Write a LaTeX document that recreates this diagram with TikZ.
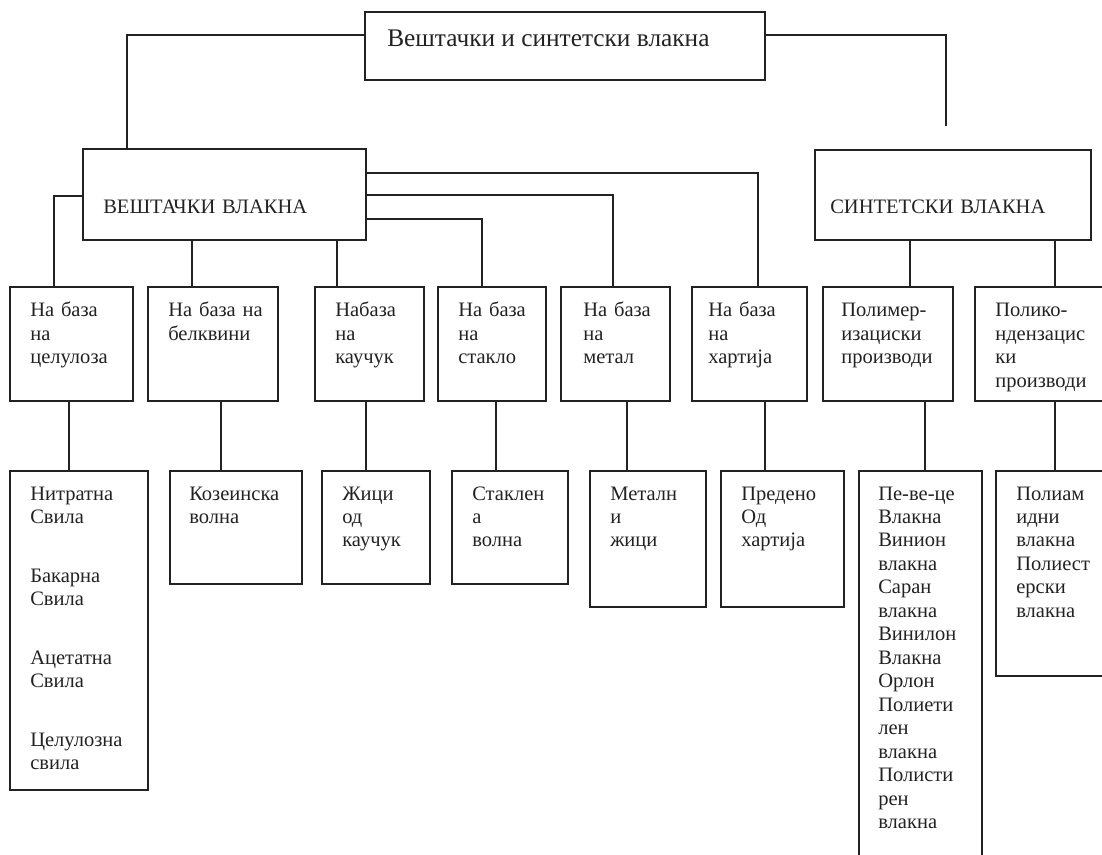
\documentclass[tikz,border=0pt]{standalone}
\usepackage{fontspec}
\setmainfont{Liberation Serif}
\usetikzlibrary{fit}
\definecolor{ink}{HTML}{222222}
\begin{document}
\begin{tikzpicture}[x=0.75pt,y=-0.75pt,
  box/.style={draw=ink,line width=1.4pt,inner sep=0pt},
  conn/.style={draw=ink,line width=1.4pt},
  txt/.style={anchor=base west,inner sep=0pt,text width=6cm,align=left,text=ink,
    font=\fontsize{15.4}{17.6}\selectfont},
  ttl/.style={anchor=base west,inner sep=0pt,text=ink,font=\fontsize{19}{23}\selectfont}]
\useasboundingbox (0,0) rectangle (1102,855);
\clip (0,0) rectangle (1102,855);
% top level
\node[box,fit={(365,12) (765,80)}] (T) {};
\node[ttl] (Tt) at (387,47) {Вештачки и синтетски влакна};
\node[box,fit={(83,149) (366,240)}] (V) {};
\node[txt] (Vt) at (103,214) {ВЕШТАЧКИ ВЛАКНА};
\node[box,fit={(815,150) (1091,240)}] (S) {};
\node[txt] (St) at (830,214) {СИНТЕТСКИ ВЛАКНА};
\coordinate (Send) at (946,126);
% level 2
\node[box,fit={(10,287) (133,401)}] (B1) {};
\node[box,fit={(148,287) (278,401)}] (B2) {};
\node[box,fit={(315,287) (424,401)}] (B3) {};
\node[box,fit={(438,287) (546,401)}] (B4) {};
\node[box,fit={(561,287) (670,401)}] (B5) {};
\node[box,fit={(692,287) (807,401)}] (B6) {};
\node[box,fit={(823,287) (953,401)}] (B7) {};
\node[box,fit={(975,287) (1110,401)}] (B8) {};
\node[txt] (B1t) at (30,317) {На база\\на\\целулоза};
\node[txt] (B2t) at (168,317) {На база на\\белквини};
\node[txt] (B3t) at (335,317) {Набаза\\на\\каучук};
\node[txt] (B4t) at (458,317) {На база\\на\\стакло};
\node[txt] (B5t) at (583,317) {На база\\на\\метал};
\node[txt] (B6t) at (708,317) {На база\\на\\хартија};
\node[txt] (B7t) at (841,317) {Полимер-\\изациски\\производи};
\node[txt] (B8t) at (995,317) {Полико-\\ндензацис\\ки\\производи};
% level 3
\node[box,fit={(10,471) (148,790)}] (L1) {};
\node[box,fit={(170,471) (302,584)}] (L2) {};
\node[box,fit={(322,471) (430,584)}] (L3) {};
\node[box,fit={(452,471) (568,584)}] (L4) {};
\node[box,fit={(590,471) (706,607)}] (L5) {};
\node[box,fit={(721,471) (844,607)}] (L6) {};
\node[box,fit={(859,471) (982,880)}] (L7) {};
\node[box,fit={(996,471) (1110,676)}] (L8) {};
\node[txt] (L1t) at (30,500) {Нитратна\\Свила\\[26.4pt]Бакарна\\Свила\\[26.4pt]Ацетатна\\Свила\\[26.4pt]Целулозна\\свила};
\node[txt] (L2t) at (189,500) {Козеинска\\волна};
\node[txt] (L3t) at (342,500) {Жици\\од\\каучук};
\node[txt] (L4t) at (472,500) {Стаклен\\а\\волна};
\node[txt] (L5t) at (610,500) {Металн\\и\\жици};
\node[txt] (L6t) at (741,500) {Предено\\Од\\хартија};
\node[txt] (L7t) at (878,500) {Пе-ве-це\\Влакна\\Винион\\влакна\\Саран\\влакна\\Винилон\\Влакна\\Орлон\\Полиети\\лен\\влакна\\Полисти\\рен\\влакна};
\node[txt] (L8t) at (1016,500) {Полиам\\идни\\влакна\\Полиест\\ерски\\влакна};
% connectors
\draw[conn] (T.west |- 0,35) -| (V.north -| 127,0);
\draw[conn] (T.east |- 0,35) -| (Send);
\draw[conn] (V.west |- 0,196) -| (B1.north -| 54,0);
\draw[conn] (V.south -| 192,0) -- (B2.north -| 192,0);
\draw[conn] (V.south -| 337,0) -- (B3.north -| 337,0);
\draw[conn] (V.east |- 0,219) -| (B4.north -| 482,0);
\draw[conn] (V.east |- 0,195) -| (B5.north -| 613,0);
\draw[conn] (V.east |- 0,173) -| (B6.north -| 758,0);
\draw[conn] (S.south -| 910,0) -- (B7.north -| 910,0);
\draw[conn] (S.south -| 1055,0) -- (B8.north -| 1055,0);
\draw[conn] (B1.south -| 69,0) -- (L1.north -| 69,0);
\draw[conn] (B2.south -| 221,0) -- (L2.north -| 221,0);
\draw[conn] (B3.south -| 366,0) -- (L3.north -| 366,0);
\draw[conn] (B4.south -| 496,0) -- (L4.north -| 496,0);
\draw[conn] (B5.south -| 627,0) -- (L5.north -| 627,0);
\draw[conn] (B6.south -| 765,0) -- (L6.north -| 765,0);
\draw[conn] (B7.south -| 925,0) -- (L7.north -| 925,0);
\draw[conn] (B8.south -| 1055,0) -- (L8.north -| 1055,0);
\end{tikzpicture}
\end{document}
